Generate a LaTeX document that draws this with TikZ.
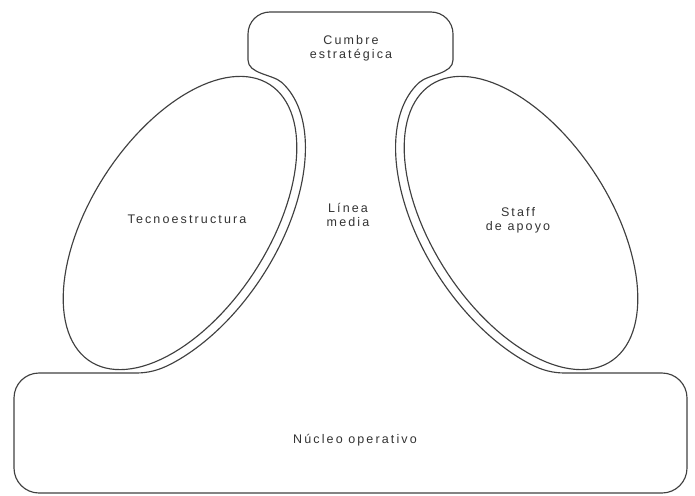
\documentclass[tikz,border=0pt]{standalone}
\usepackage{fontspec}
\newfontfamily\lblfont{Liberation Sans}[LetterSpace=17]
\begin{document}
\begin{tikzpicture}[x=1pt,y=-1pt,
  outline/.style={draw=black!75,line width=1.15pt,line join=round},
  lbl/.style={text=black!80,align=center,font=\lblfont\fontsize{12.5}{14}\selectfont,inner sep=0pt}]
\useasboundingbox (0,0) rectangle (695,495);
% outer contour: operating core, middle line, strategic apex
\draw[outline] (136,373) -- (39,373) .. controls (25.2,373) and (14,384.2) .. (14,398)
  -- (14,468) .. controls (14,481.8) and (25.2,493) .. (39,493)
  -- (662,493) .. controls (675.8,493) and (687,481.8) .. (687,468)
  -- (687,398) .. controls (687,384.2) and (675.8,373) .. (662,373)
  -- (565,373) .. controls (553,373) and (542.3,370.4) .. (529.88,363.93)
  -- plot[domain=135:5,samples=70,variable=\t] ({521-94.76*cos(\t)-82.19*sin(\t)},{223-145.93*cos(\t)+53.37*sin(\t)})
  .. controls (428.4,74.3) and (453,74) .. (453,60)
  -- (453,34) .. controls (453,21.85) and (443.15,12) .. (431,12)
  -- (270,12) .. controls (257.85,12) and (248,21.85) .. (248,34)
  -- (248,60) .. controls (248,74) and (272.6,74.3) .. (281.56,82.28)
  -- plot[domain=5:135,samples=70,variable=\t] ({180+94.76*cos(\t)+82.19*sin(\t)},{223-145.93*cos(\t)+53.37*sin(\t)})
  .. controls (158.7,370.4) and (148,373) .. (136,373) -- cycle;
% technostructure ellipse
\draw[outline] plot[domain=0:360,samples=120,variable=\t] ({180+89.86*cos(\t)+74.64*sin(\t)},{223-138.39*cos(\t)+48.47*sin(\t)}) -- cycle;
% support staff ellipse
\draw[outline] plot[domain=0:360,samples=120,variable=\t] ({521-89.86*cos(\t)-74.64*sin(\t)},{223-138.39*cos(\t)+48.47*sin(\t)}) -- cycle;
% labels
\node[lbl] (cumbre) at (351,48) {Cumbre\\estratégica};
\node[lbl] (tecno) at (187,219) {Tecnoestructura};
\node[lbl] (linea) at (348,215) {Línea\\media};
\node[lbl] (staff) at (518,220) {Staff\\de apoyo};
\node[lbl] (nucleo) at (355,440) {Núcleo operativo};
\end{tikzpicture}
\end{document}
